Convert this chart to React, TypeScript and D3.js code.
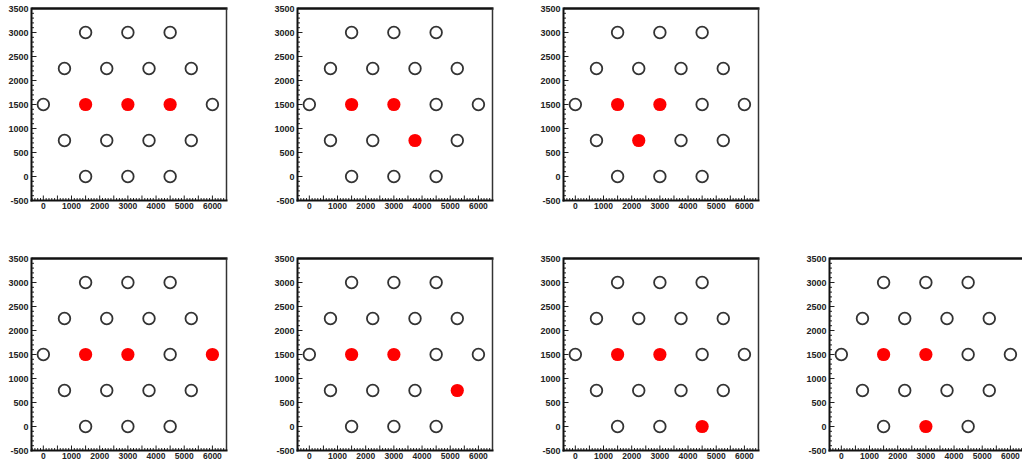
import React, { useEffect, useRef } from "react";
import * as d3 from "d3";

// hexagonal layout of the 19 positions
const pointX = [1500, 3000, 4500, 750, 2250, 3750, 5250, 0, 1500, 3000, 4500, 6000, 750, 2250, 3750, 5250, 1500, 3000, 4500];
const pointY = [3000, 3000, 3000, 2250, 2250, 2250, 2250, 1500, 1500, 1500, 1500, 1500, 750, 750, 750, 750, 0, 0, 0];

// red (selected) positions per panel, as [x, y]
const panelRed = [
  [[1500, 1500], [3000, 1500], [4500, 1500]],
  [[1500, 1500], [3000, 1500], [3750, 750]],
  [[1500, 1500], [3000, 1500], [2250, 750]],
  [[1500, 1500], [3000, 1500], [6000, 1500]],
  [[1500, 1500], [3000, 1500], [5250, 750]],
  [[1500, 1500], [3000, 1500], [4500, 0]],
  [[1500, 1500], [3000, 1500], [3000, 0]],
];
const panelCol = [0, 1, 2, 0, 1, 2, 3];
const panelRow = [0, 0, 0, 1, 1, 1, 1];

const xTicks = [0, 1000, 2000, 3000, 4000, 5000, 6000];
const yTicks = [-500, 0, 500, 1000, 1500, 2000, 2500, 3000, 3500];

const App = () => {
  const ref = useRef<SVGSVGElement>(null);

  useEffect(() => {
    const svg = d3.select(ref.current);
    svg.selectAll("*").remove();

    const left = 31.5, right = 226.5, top = 8.5, bottom = 200.5;
    const x = d3.scaleLinear().domain([-420, 6500]).range([left, right]);
    const y = d3.scaleLinear().domain([-500, 3500]).range([bottom, top]);
    const font = "'Liberation Sans', Arial, sans-serif";

    panelRed.forEach((reds, i) => {
      const g = svg.append("g")
        .attr("transform", `translate(${panelCol[i] * 266},${panelRow[i] * 250})`);

      g.append("rect")
        .attr("x", left).attr("y", top)
        .attr("width", right - left).attr("height", bottom - top)
        .attr("fill", "white");

      // minor / major ticks, pointing inward
      const xMinor = d3.range(-400, 6501, 100);
      g.selectAll(".xt").data(xMinor).join("line")
        .attr("x1", (d) => x(d)).attr("x2", (d) => x(d))
        .attr("y1", bottom).attr("y2", (d) => bottom - (d % 500 === 0 ? 5 : 2.5))
        .attr("stroke", "#222").attr("stroke-width", 1);

      const yMinor = d3.range(-500, 3501, 100);
      g.selectAll(".yt").data(yMinor).join("line")
        .attr("y1", (d) => y(d)).attr("y2", (d) => y(d))
        .attr("x1", left).attr("x2", (d) => left + (d % 500 === 0 ? 5 : 2.5))
        .attr("stroke", "#222").attr("stroke-width", 1);

      // frame
      g.append("line").attr("x1", left).attr("x2", right + 1).attr("y1", top).attr("y2", top)
        .attr("stroke", "#111").attr("stroke-width", 2.5);
      g.append("line").attr("x1", right).attr("x2", right).attr("y1", top).attr("y2", bottom)
        .attr("stroke", "#333").attr("stroke-width", 1.5);
      g.append("line").attr("x1", left).attr("x2", left).attr("y1", top - 1).attr("y2", bottom + 1)
        .attr("stroke", "#111").attr("stroke-width", 2);
      g.append("line").attr("x1", left - 1).attr("x2", right + 1).attr("y1", bottom).attr("y2", bottom)
        .attr("stroke", "#111").attr("stroke-width", 2);

      // tick labels
      g.selectAll(".xl").data(xTicks).join("text")
        .attr("x", (d) => x(d)).attr("y", bottom + 8.5)
        .attr("text-anchor", "middle")
        .attr("font-family", font).attr("font-size", 8.5).attr("font-weight", "bold")
        .attr("fill", "#222")
        .text((d) => String(d));

      g.selectAll(".yl").data(yTicks).join("text")
        .attr("x", left - 3).attr("y", (d) => y(d) + 3.2)
        .attr("text-anchor", "end")
        .attr("font-family", font).attr("font-size", 9).attr("font-weight", "bold")
        .attr("fill", "#222")
        .text((d) => String(d));

      // points
      const isRed = (px: number, py: number) => reds.some(([rx, ry]) => rx === px && ry === py);
      const pts = pointX.map((px, k) => ({ px, py: pointY[k] }));

      g.selectAll(".open").data(pts.filter((p) => !isRed(p.px, p.py))).join("circle")
        .attr("cx", (d) => x(d.px)).attr("cy", (d) => y(d.py)).attr("r", 5.8)
        .attr("fill", "none").attr("stroke", "#333").attr("stroke-width", 1.8);

      g.selectAll(".red").data(pts.filter((p) => isRed(p.px, p.py))).join("circle")
        .attr("cx", (d) => x(d.px)).attr("cy", (d) => y(d.py)).attr("r", 6.6)
        .attr("fill", "#f00");
    });
  }, []);

  return (
    <svg ref={ref} width={1022} height={460}
      style={{ position: "absolute", left: 0, top: 0, background: "white" }} />
  );
};

export default App;
